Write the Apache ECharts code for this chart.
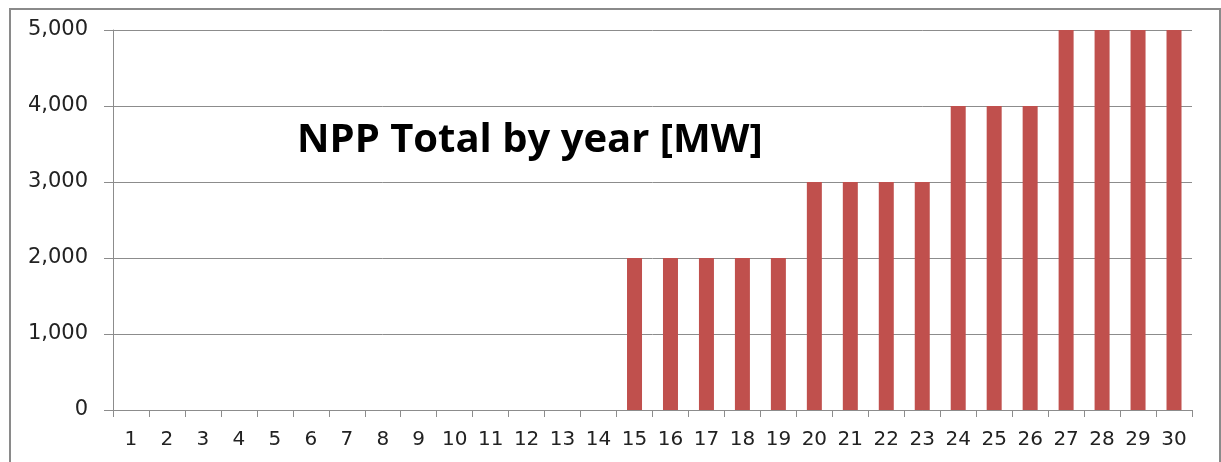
<!DOCTYPE html>
<html>
<head>
<meta charset="utf-8">
<script src="https://cdn.jsdelivr.net/npm/echarts@6/dist/echarts.min.js"></script>
<style>
  html, body { margin: 0; padding: 0; background: #fff; }
  #chart { width: 1221px; height: 462px; }
</style>
</head>
<body>
<div id="chart"></div>
<script>
// 年份 1..30
const years = ['1','2','3','4','5','6','7','8','9','10','11','12','13','14','15',
  '16','17','18','19','20','21','22','23','24','25','26','27','28','29','30'];
// NPP total [MW]
const nppTotal = [0,0,0,0,0,0,0,0,0,0,0,0,0,0,2000,
  2000,2000,2000,2000,3000,3000,3000,3000,4000,4000,4000,5000,5000,5000,5000];
const yTicks = { min: 0, max: 5000, interval: 1000 };
const titleText = 'NPP Total by year [MW]';

const myChart = echarts.init(document.getElementById('chart'));
myChart.setOption({
  animation: false,
  title: {
    text: titleText,
    left: 292,
    top: 116,
    textStyle: { fontFamily: 'Open Sans', fontWeight: 'bold', fontSize: 40, color: '#000' }
  },
  // 外框
  graphic: [{
    type: 'rect',
    shape: { x: 10, y: 9, width: 1210, height: 470 },
    style: { fill: 'none', stroke: '#8a8a8a', lineWidth: 2 },
    silent: true
  }],
  grid: { left: 113, right: 29, top: 30, bottom: 52, containLabel: false },
  xAxis: {
    type: 'category',
    data: years,
    axisLine: { lineStyle: { color: '#8c8c8c', width: 1 } },
    axisTick: { show: true, length: 7, alignWithLabel: false, lineStyle: { color: '#8c8c8c' } },
    axisLabel: { color: '#222', fontFamily: 'DejaVu Sans', fontSize: 20, margin: 20, interval: 0 }
  },
  yAxis: {
    type: 'value',
    min: yTicks.min,
    max: yTicks.max,
    interval: yTicks.interval,
    axisLine: { show: true, lineStyle: { color: '#8c8c8c', width: 1 } },
    axisTick: { show: true, length: 9, lineStyle: { color: '#8c8c8c' } },
    axisLabel: {
      color: '#222', fontFamily: 'DejaVu Sans', fontSize: 21, margin: 25,
      formatter: v => v.toLocaleString('en-US')
    },
    splitLine: { show: true, lineStyle: { color: '#8c8c8c', width: 1 } }
  },
  series: [{
    type: 'bar',
    data: nppTotal,
    barWidth: 15,
    itemStyle: { color: '#C0504D' }
  }]
});
</script>
</body>
</html>
